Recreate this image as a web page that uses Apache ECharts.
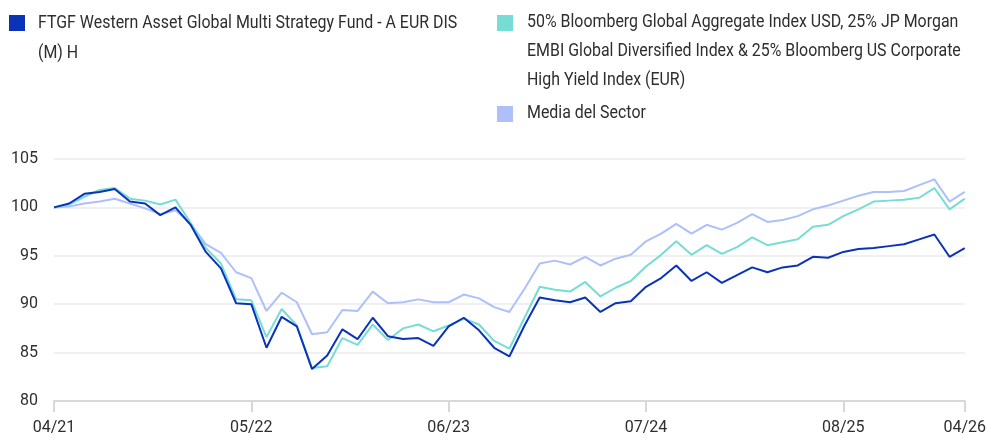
<!DOCTYPE html>
<html>
<head>
<meta charset="utf-8">
<style>
  html, body { margin: 0; padding: 0; background: #fff; }
  #chart { width: 989px; height: 439px; }
</style>
<script src="https://cdn.jsdelivr.net/npm/echarts@6/dist/echarts.min.js"></script>
</head>
<body>
<div id="chart"></div>
<script>
// months from 04/21 to 04/26
const months = [
  '04/21','05/21','06/21','07/21','08/21','09/21','10/21','11/21','12/21',
  '01/22','02/22','03/22','04/22','05/22','06/22','07/22','08/22','09/22','10/22','11/22','12/22',
  '01/23','02/23','03/23','04/23','05/23','06/23','07/23','08/23','09/23','10/23','11/23','12/23',
  '01/24','02/24','03/24','04/24','05/24','06/24','07/24','08/24','09/24','10/24','11/24','12/24',
  '01/25','02/25','03/25','04/25','05/25','06/25','07/25','08/25','09/25','10/25','11/25','12/25',
  '01/26','02/26','03/26','04/26'
]
const xTickLabels = ['04/21', '05/22', '06/23', '07/24', '08/25', '04/26']

const fundName = 'FTGF Western Asset Global Multi Strategy Fund - A EUR DIS\n(M) H'
const benchName = '50% Bloomberg Global Aggregate Index USD, 25% JP Morgan\nEMBI Global Diversified Index & 25% Bloomberg US Corporate\nHigh Yield Index (EUR)'
const sectorName = 'Media del Sector'

const fund = [
  100, 100.4, 101.4, 101.6, 101.9, 100.6, 100.4, 99.2, 100.0, 98.2,
  95.4, 93.7, 90.1, 90.0, 85.5, 88.7, 87.7, 83.3, 84.7, 87.4,
  86.4, 88.6, 86.7, 86.4, 86.5, 85.7, 87.7, 88.6, 87.3, 85.5,
  84.6, 87.8, 90.7, 90.4, 90.2, 90.7, 89.2, 90.1, 90.3, 91.8,
  92.7, 94.0, 92.4, 93.3, 92.2, 93.0, 93.8, 93.3, 93.8, 94.0,
  94.9, 94.8, 95.4, 95.7, 95.8, 96.0, 96.2, 96.7, 97.2, 94.9,
  95.8
]
const bench = [
  100, 100.3, 101.1, 101.8, 102.0, 100.9, 100.7, 100.3, 100.8, 98.4,
  95.8, 94.2, 90.5, 90.4, 86.6, 89.5, 87.8, 83.4, 83.6, 86.5,
  85.8, 87.9, 86.3, 87.5, 87.9, 87.2, 87.8, 88.5, 87.9, 86.2,
  85.4, 88.6, 91.8, 91.5, 91.3, 92.3, 90.8, 91.7, 92.4, 93.9,
  95.1, 96.5, 95.1, 96.1, 95.2, 95.9, 96.9, 96.1, 96.4, 96.7,
  98.0, 98.2, 99.1, 99.8, 100.6, 100.7, 100.8, 101.0, 102.0, 99.8,
  100.9
]
const sector = [
  100, 100.1, 100.4, 100.6, 100.9, 100.4, 99.9, 99.3, 99.7, 98.3,
  96.2, 95.3, 93.3, 92.7, 89.3, 91.2, 90.2, 86.9, 87.1, 89.4,
  89.3, 91.3, 90.1, 90.2, 90.5, 90.2, 90.2, 91.0, 90.6, 89.7,
  89.2, 91.6, 94.2, 94.5, 94.1, 94.9, 94.0, 94.7, 95.1, 96.5,
  97.3, 98.3, 97.3, 98.2, 97.7, 98.4, 99.3, 98.5, 98.7, 99.1,
  99.8, 100.2, 100.7, 101.2, 101.6, 101.6, 101.7, 102.3, 102.9, 100.6,
  101.6
]

const colors = ['#0a33b8', '#76ddd4', '#adc0fc']
const FONT = 'Roboto, sans-serif'
const TEXT = '#2e2e2e'
const squeeze = 0.885 // the original font is a narrow one

const chart = echarts.init(document.getElementById('chart'))
const showTick = (i, v) => xTickLabels.indexOf(months[i]) >= 0

chart.setOption({
  animation: false,
  color: colors,
  textStyle: { fontFamily: FONT },
  grid: { left: 54, right: 20, top: 159, bottom: 38 },
  xAxis: {
    type: 'category',
    data: months,
    boundaryGap: false,
    axisLine: { lineStyle: { color: '#d8d8d8', width: 2 } },
    axisTick: { interval: showTick, length: 11, lineStyle: { color: '#d8d8d8', width: 2 } },
    axisLabel: { interval: showTick, color: TEXT, fontSize: 16, fontFamily: FONT, margin: 19 },
    splitLine: { show: false }
  },
  yAxis: {
    type: 'value',
    min: 80,
    max: 105,
    interval: 5,
    axisLine: { show: false },
    axisTick: { show: false },
    axisLabel: { color: TEXT, fontSize: 16, fontFamily: FONT, margin: 16 },
    splitLine: { lineStyle: { color: '#f0f0f0', width: 2 } }
  },
  series: [
    { name: sectorName, type: 'line', data: sector, symbol: 'none', z: 1, lineStyle: { width: 2, color: colors[2] }, itemStyle: { color: colors[2] } },
    { name: benchName, type: 'line', data: bench, symbol: 'none', z: 2, lineStyle: { width: 2, color: colors[1] }, itemStyle: { color: colors[1] } },
    { name: fundName, type: 'line', data: fund, symbol: 'none', z: 3, lineStyle: { width: 2, color: colors[0] }, itemStyle: { color: colors[0] } }
  ],
  graphic: [
    { type: 'rect', left: 9, top: 15, shape: { width: 16, height: 16 }, style: { fill: colors[0] } },
    { type: 'text', x: 38, y: 8, scaleX: squeeze, style: { text: fundName, fill: TEXT, font: '18px ' + FONT, lineHeight: 30, verticalAlign: 'top' } },
    { type: 'rect', left: 497, top: 15, shape: { width: 16, height: 16 }, style: { fill: colors[1] } },
    { type: 'text', x: 527, y: 8, scaleX: squeeze, style: { text: benchName, fill: TEXT, font: '18px ' + FONT, lineHeight: 29, verticalAlign: 'top' } },
    { type: 'rect', left: 497, top: 106, shape: { width: 16, height: 16 }, style: { fill: colors[2] } },
    { type: 'text', x: 527, y: 99, scaleX: squeeze, style: { text: sectorName, fill: TEXT, font: '18px ' + FONT, lineHeight: 29, verticalAlign: 'top' } }
  ]
})
</script>
</body>
</html>
